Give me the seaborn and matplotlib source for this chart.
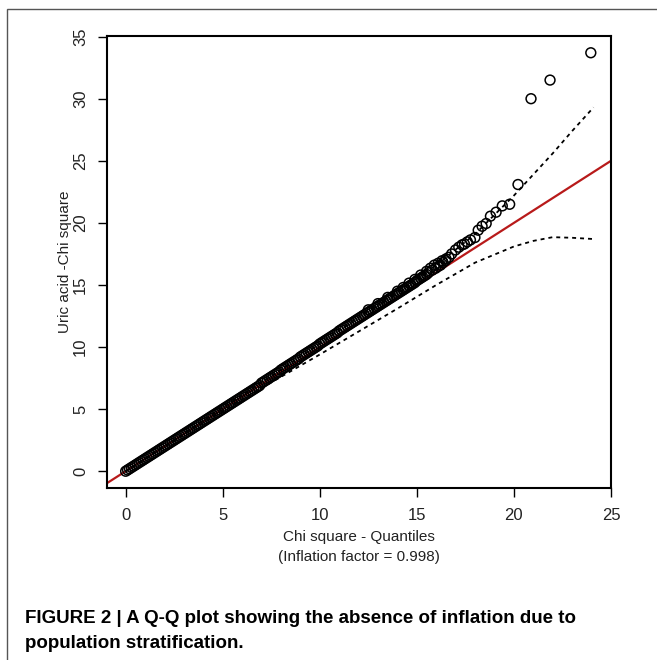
import matplotlib
matplotlib.use("Agg")
import matplotlib.pyplot as plt
import seaborn as sns
import pandas as pd
from matplotlib.patches import Rectangle

# ---------------- data ----------------
# dense body of the Q-Q plot: expected chi-square quantile vs observed
expected_body = [
    0.0, 0.1, 0.2, 0.3, 0.4, 0.5, 0.6, 0.7, 0.8, 0.9,
    1.0, 1.1, 1.2, 1.3, 1.4, 1.5, 1.6, 1.7, 1.8, 1.9,
    2.0, 2.1, 2.2, 2.3, 2.4, 2.5, 2.6, 2.7, 2.8, 2.9,
    3.0, 3.1, 3.2, 3.3, 3.4, 3.5, 3.6, 3.7, 3.8, 3.9,
    4.0, 4.1, 4.2, 4.3, 4.4, 4.5, 4.6, 4.7, 4.8, 4.9,
    5.0, 5.1, 5.2, 5.3, 5.4, 5.5, 5.6, 5.7, 5.8, 5.9,
    6.0, 6.1, 6.2, 6.3, 6.4, 6.5, 6.6, 6.7, 6.8, 6.9,
    7.0, 7.1, 7.2, 7.3, 7.4, 7.5, 7.6, 7.7, 7.8, 7.9,
    8.0, 8.1, 8.2, 8.3, 8.4, 8.5, 8.6, 8.7, 8.8, 8.9,
    9.0, 9.1, 9.2, 9.3, 9.4, 9.5, 9.6, 9.7, 9.8, 9.9,
    10.0, 10.1, 10.2, 10.3, 10.4, 10.5, 10.6, 10.7, 10.8, 10.9,
    11.0, 11.1, 11.2, 11.3, 11.4, 11.5, 11.6, 11.7, 11.8, 11.9,
    12.0, 12.1, 12.2, 12.3, 12.4, 12.5, 12.6, 12.7, 12.8, 12.9,
    13.0, 13.1, 13.2, 13.3, 13.4, 13.5, 13.6, 13.7, 13.8, 13.9,
    14.0, 14.1, 14.2, 14.3, 14.4, 14.5, 14.6, 14.7, 14.8, 14.9,
    15.0, 15.1, 15.2, 15.3, 15.4, 15.5]
observed_body = [
    0.0, 0.1, 0.2, 0.3, 0.4, 0.5, 0.6, 0.7, 0.8, 0.9,
    1.0, 1.1, 1.2, 1.3, 1.4, 1.5, 1.6, 1.7, 1.8, 1.9,
    2.0, 2.1, 2.2, 2.3, 2.4, 2.5, 2.6, 2.7, 2.8, 2.9,
    3.0, 3.1, 3.2, 3.3, 3.4, 3.5, 3.6, 3.7, 3.8, 3.9,
    4.0, 4.1, 4.2, 4.3, 4.4, 4.5, 4.6, 4.7, 4.8, 4.9,
    5.0, 5.1, 5.2, 5.3, 5.4, 5.5, 5.6, 5.7, 5.8, 5.9,
    6.0, 6.1, 6.2, 6.3, 6.4, 6.5, 6.6, 6.7, 6.8, 6.9,
    7.1, 7.2, 7.3, 7.4, 7.5, 7.6, 7.7, 7.8, 7.9, 8.0,
    8.15, 8.25, 8.35, 8.45, 8.55, 8.65, 8.75, 8.85, 8.95, 9.05,
    9.2, 9.3, 9.4, 9.5, 9.6, 9.7, 9.8, 9.9, 10.0, 10.1,
    10.25, 10.35, 10.45, 10.55, 10.65, 10.75, 10.85, 10.95, 11.05, 11.15,
    11.3, 11.4, 11.5, 11.6, 11.7, 11.8, 11.9, 12.0, 12.1, 12.2,
    12.3, 12.4, 12.5, 12.6, 12.7, 12.8, 12.9, 13.0, 13.1, 13.2,
    13.3, 13.4, 13.5, 13.6, 13.7, 13.8, 13.9, 14.0, 14.1, 14.2,
    14.3, 14.4, 14.5, 14.6, 14.7, 14.8, 14.9, 15.0, 15.1, 15.2,
    15.35, 15.45, 15.55, 15.65, 15.75, 15.85]
# scattered points just above the body (upper edge of the cloud)
expected_spread = [12.5, 13.0, 13.5, 14.0, 14.3, 14.6, 14.9, 15.2, 15.5,
                   15.7, 15.9, 16.1, 16.3, 16.5]
observed_spread = [13.0, 13.5, 14.0, 14.5, 14.8, 15.15, 15.45, 15.8, 16.1,
                   16.35, 16.6, 16.75, 16.95, 17.1]
# sparse upper tail
expected_tail = [15.6, 15.8, 15.97, 16.1, 16.22, 16.35, 16.48, 16.65, 16.79, 16.99,
                 17.16, 17.33, 17.45, 17.6, 17.76, 17.99, 18.16, 18.36, 18.57, 18.79,
                 19.08, 19.4, 19.78, 20.21, 20.88, 21.86, 23.96]
observed_tail = [16.0, 16.2, 16.35, 16.5, 16.6, 16.8, 16.96, 17.23, 17.5, 17.82,
                 18.04, 18.23, 18.3, 18.47, 18.63, 18.82, 19.41, 19.73, 19.95, 20.54,
                 20.86, 21.37, 21.5, 23.09, 30.0, 31.5, 33.7]

# 95% confidence band (dashed)
band_x = [0.0, 2.0, 4.0, 6.0, 8.0, 10.0, 12.0, 14.0, 16.0, 18.0, 20.0, 21.0, 22.0, 23.0, 24.1]
band_upper = [0.0, 2.05, 4.1, 6.15, 8.2, 10.3, 12.4, 14.5, 16.6, 19.1, 22.2, 23.9, 25.6, 27.4, 29.3]
band_lower = [0.0, 1.95, 3.9, 5.8, 7.6, 9.4, 11.25, 13.1, 15.0, 16.8, 18.1, 18.55, 18.85, 18.8, 18.7]

x_ticks = [0, 5, 10, 15, 20, 25]
y_ticks = [0, 5, 10, 15, 20, 25, 30, 35]
x_label = "Chi square - Quantiles\n(Inflation factor = 0.998)"
y_label = "Uric acid -Chi square"
caption = ("FIGURE 2 | A Q-Q plot showing the absence of inflation due to\n"
           "population stratification.")

# ---------------- figure ----------------
sns.set_theme(style="white")
plt.rcParams["font.family"] = ["Liberation Sans", "DejaVu Sans"]

W, H = 657, 660
fig = plt.figure(figsize=(W / 100, H / 100), dpi=100)
fig.patch.set_facecolor("white")

# outer frame of the figure panel
fig.patches.append(Rectangle((7 / W, -0.05), 1.2, 1 - 9 / H + 0.05,
                             transform=fig.transFigure, fill=False,
                             edgecolor="#555555", linewidth=1.0))

left, right, top, bottom = 107, 611, 36, 488
ax = fig.add_axes([left / W, 1 - bottom / H, (right - left) / W, (bottom - top) / H])

pts = pd.DataFrame({"expected": expected_body + expected_spread + expected_tail,
                    "observed": observed_body + observed_spread + observed_tail})
band = pd.DataFrame({"x": band_x, "upper": band_upper, "lower": band_lower})

# reference line y = x (under the points)
ax.axline((0, 0), slope=1, color="#B81A1A", linewidth=1.6, zorder=1)

sns.lineplot(data=band, x="x", y="upper", ax=ax, color="black",
             linestyle=(0, (2.2, 2.2)), linewidth=1.3, zorder=2)
sns.lineplot(data=band, x="x", y="lower", ax=ax, color="black",
             linestyle=(0, (2.2, 2.2)), linewidth=1.3, zorder=2)

sns.scatterplot(data=pts, x="expected", y="observed", ax=ax, marker="o",
                s=50, facecolors="none", edgecolor="black", linewidth=1.1,
                zorder=3)

ax.set_xlim(-0.96, 25.0)
ax.set_ylim(-1.35, 35.05)
ax.set_xticks(x_ticks)
ax.set_yticks(y_ticks)
ax.set_xticklabels([str(t) for t in x_ticks])
ax.set_yticklabels([str(t) for t in y_ticks], rotation=90, va="center")
ax.tick_params(axis="both", direction="out", length=6.5, width=1.0,
               color="black", labelsize=12, labelcolor="#222222", pad=8,
               bottom=True, left=True)
ax.tick_params(axis="y", pad=7)
for s in ax.spines.values():
    s.set_color("black")
    s.set_linewidth(1.5)

ax.set_xlabel(x_label, fontsize=11, color="#222222", labelpad=5, linespacing=1.55)
ax.set_ylabel(y_label, fontsize=11, color="#222222", labelpad=1)

fig.text(25 / W, 1 - 631 / H, caption, fontsize=13.5, fontweight="bold",
         color="black", va="center", ha="left", linespacing=1.6)

fig.savefig("out.png", dpi=100)
